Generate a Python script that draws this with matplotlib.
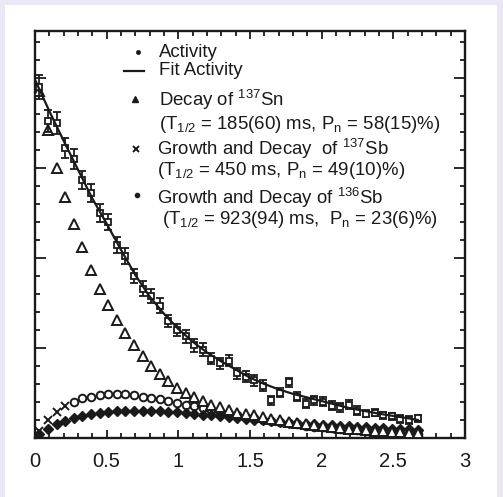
import matplotlib
matplotlib.use("Agg")
import matplotlib.pyplot as plt
from matplotlib.patches import Rectangle
from matplotlib.ticker import MultipleLocator, NullFormatter

plt.rcParams['font.family'] = ['Liberation Sans', 'DejaVu Sans']
plt.rcParams['mathtext.fontset'] = 'custom'
plt.rcParams['mathtext.rm'] = 'Liberation Sans'
plt.rcParams['mathtext.it'] = 'Liberation Sans:italic'
plt.rcParams['mathtext.bf'] = 'Liberation Sans:bold'

# ---- data -------------------------------------------------------------
# time bins (s)
time = [0.03, 0.09, 0.15, 0.21, 0.27, 0.33, 0.39, 0.45, 0.51, 0.57,
        0.63, 0.69, 0.75, 0.81, 0.87, 0.93, 0.99, 1.05, 1.11, 1.17,
        1.23, 1.29, 1.35, 1.41, 1.47, 1.53, 1.59, 1.65, 1.71, 1.77,
        1.83, 1.89, 1.95, 2.01, 2.07, 2.13, 2.19, 2.25, 2.31, 2.37,
        2.43, 2.49, 2.55, 2.61, 2.67]

# measured activity (arb. units) and its uncertainty
activity = [3.90, 3.52, 3.50, 3.22, 3.10, 2.86, 2.72, 2.50, 2.40, 2.14,
            2.02, 1.80, 1.66, 1.58, 1.47, 1.30, 1.20, 1.13, 1.03, 0.98,
            0.88, 0.83, 0.86, 0.72, 0.68, 0.64, 0.58, 0.42, 0.50, 0.62,
            0.46, 0.38, 0.42, 0.40, 0.36, 0.34, 0.37, 0.30, 0.27, 0.28,
            0.25, 0.24, 0.21, 0.20, 0.22]
activity_err = [0.13, 0.12, 0.12, 0.11, 0.11, 0.10, 0.10, 0.10, 0.09, 0.09,
                0.09, 0.08, 0.08, 0.08, 0.08, 0.07, 0.07, 0.07, 0.07, 0.07,
                0.06, 0.06, 0.06, 0.06, 0.06, 0.06, 0.06, 0.05, 0.05, 0.05,
                0.05, 0.05, 0.05, 0.05, 0.05, 0.05, 0.05, 0.05, 0.04, 0.04,
                0.04, 0.04, 0.04, 0.04, 0.04]

# fitted total activity
fit_time = [0.0, 0.1, 0.2, 0.3, 0.4, 0.5, 0.6, 0.7, 0.8, 0.9, 1.0, 1.1,
            1.2, 1.3, 1.4, 1.5, 1.6, 1.7, 1.8, 1.9, 2.0, 2.1, 2.2, 2.3,
            2.4, 2.5, 2.6, 2.67]
fit_activity = [3.98, 3.63, 3.30, 2.98, 2.66, 2.38, 2.09, 1.81, 1.57, 1.38,
                1.21, 1.07, 0.95, 0.85, 0.76, 0.67, 0.60, 0.54, 0.49, 0.45,
                0.41, 0.37, 0.33, 0.30, 0.27, 0.245, 0.22, 0.20]

# fit components
decay_137sn = [3.85, 3.42, 3.00, 2.68, 2.38, 2.12, 1.87, 1.66, 1.48, 1.31,
               1.17, 1.03, 0.91, 0.80, 0.71, 0.63, 0.56, 0.50, 0.45, 0.41,
               0.37, 0.34, 0.31, 0.28, 0.265, 0.25, 0.23, 0.21, 0.195, 0.18,
               0.165, 0.152, 0.14, 0.13, 0.12, 0.11, 0.102, 0.095, 0.088, 0.082,
               0.076, 0.07, 0.065, 0.06, 0.056]
growth_137sb = [0.08, 0.20, 0.29, 0.35, 0.40, 0.44, 0.46, 0.48, 0.49, 0.49,
                0.485, 0.475, 0.46, 0.445, 0.43, 0.41, 0.39, 0.37, 0.35, 0.33,
                0.31, 0.29, 0.27, 0.25, 0.235, 0.22, 0.205, 0.19, 0.175, 0.162,
                0.15, 0.138, 0.127, 0.117, 0.108, 0.10, 0.092, 0.085, 0.078, 0.072,
                0.066, 0.061, 0.056, 0.052, 0.048]
growth_136sb = [0.04, 0.10, 0.15, 0.19, 0.22, 0.245, 0.265, 0.28, 0.29, 0.30,
                0.305, 0.305, 0.305, 0.30, 0.295, 0.29, 0.285, 0.275, 0.268, 0.26,
                0.25, 0.24, 0.232, 0.222, 0.213, 0.204, 0.195, 0.186, 0.178, 0.17,
                0.162, 0.155, 0.15, 0.145, 0.14, 0.134, 0.128, 0.123, 0.118, 0.113,
                0.108, 0.104, 0.10, 0.096, 0.092]

# ---- figure -----------------------------------------------------------
W, H = 503, 497
fig = plt.figure(figsize=(W / 100, H / 100), dpi=100)
fig.patch.set_facecolor('#ebe8f4')
fig.add_artist(Rectangle((5 / W, 0), 492 / W, 492 / H, transform=fig.transFigure,
                         facecolor='white', edgecolor='none', zorder=0))

ax = fig.add_axes([35 / W, (H - 438) / H, 430 / W, 407 / H])
ax.set_facecolor('white')
ink = '#1a1a1a'

# components
n_x = 4
ax.plot(time[:n_x], growth_137sb[:n_x], linestyle='none', marker='x',
        ms=5.5, mew=1.4, color=ink, zorder=3)
ax.plot(time[n_x:], growth_137sb[n_x:], linestyle='none', marker='o',
        ms=5.5, mfc='white', mec=ink, mew=1.4, zorder=3)
ax.plot(time, growth_136sb, linestyle='none', marker='D', ms=5,
        color=ink, zorder=3)
ax.plot(time, decay_137sn, linestyle='none', marker='^', ms=7,
        mfc='white', mec=ink, mew=1.4, zorder=3)

# measured activity and fit
ax.errorbar(time, activity, yerr=activity_err, fmt='s', ms=5, mfc='white',
            mec=ink, mew=1.3, ecolor=ink, elinewidth=1.3, capsize=3,
            capthick=1.3, zorder=4)
ax.plot(fit_time, fit_activity, color=ink, lw=1.6, zorder=5)

ax.set_xlim(0, 3)
ax.set_ylim(0, 4.52)
ax.xaxis.set_major_locator(MultipleLocator(0.5))
ax.xaxis.set_minor_locator(MultipleLocator(0.1))
ax.yaxis.set_major_locator(MultipleLocator(1))
ax.yaxis.set_minor_locator(MultipleLocator(0.2))
ax.yaxis.set_major_formatter(NullFormatter())
ax.set_xticks([0, 0.5, 1, 1.5, 2, 2.5, 3])
ax.set_xticklabels(['0', '0.5', '1', '1.5', '2', '2.5', '3'])

ax.tick_params(which='both', direction='in', top=True, right=True,
               color=ink, width=1.3, labelsize=14.5, labelcolor=ink)
ax.tick_params(axis='x', which='major', length=6, pad=10)
ax.tick_params(axis='y', which='major', length=8)
ax.tick_params(which='minor', length=3.5)
for s in ax.spines.values():
    s.set_linewidth(1.7)
    s.set_color(ink)

# key
fs = 13.4
tr = ax.transAxes
ax.plot([0.240], [0.948], marker='o', ms=2.5, color=ink, transform=tr)
ax.text(0.288, 0.948, 'Activity', fontsize=fs, va='center', ha='left',
        color=ink, transform=tr)
ax.plot([0.207, 0.253], [0.902, 0.902], color=ink, lw=1.6, transform=tr)
ax.text(0.288, 0.902, 'Fit Activity', fontsize=fs, va='center', ha='left',
        color=ink, transform=tr)
ax.plot([0.233], [0.832], marker='^', ms=4.5, color=ink, transform=tr)
ax.text(0.288, 0.830, r'Decay of $^{137}$Sn', fontsize=fs, va='center',
        ha='left', color=ink, transform=tr)
ax.text(0.288, 0.771, r'(T$_{1/2}$ = 185(60) ms, P$_\mathrm{n}$ = 58(15)%)',
        fontsize=fs, va='center', ha='left', color=ink, transform=tr)
ax.plot([0.235], [0.710], marker='x', ms=4.5, mew=1.4, color=ink, transform=tr)
ax.text(0.284, 0.710, r'Growth and Decay  of $^{137}$Sb', fontsize=fs,
        va='center', ha='left', color=ink, transform=tr)
ax.text(0.284, 0.658, r'(T$_{1/2}$ = 450 ms, P$_\mathrm{n}$ = 49(10)%)',
        fontsize=fs, va='center', ha='left', color=ink, transform=tr)
ax.plot([0.237], [0.597], marker='o', ms=3, color=ink, transform=tr)
ax.text(0.284, 0.589, r'Growth and Decay of $^{136}$Sb', fontsize=fs,
        va='center', ha='left', color=ink, transform=tr)
ax.text(0.295, 0.538, r'(T$_{1/2}$ = 923(94) ms,  P$_\mathrm{n}$ = 23(6)%)',
        fontsize=fs, va='center', ha='left', color=ink, transform=tr)

fig.savefig('out.png', dpi=100, facecolor=fig.get_facecolor())
